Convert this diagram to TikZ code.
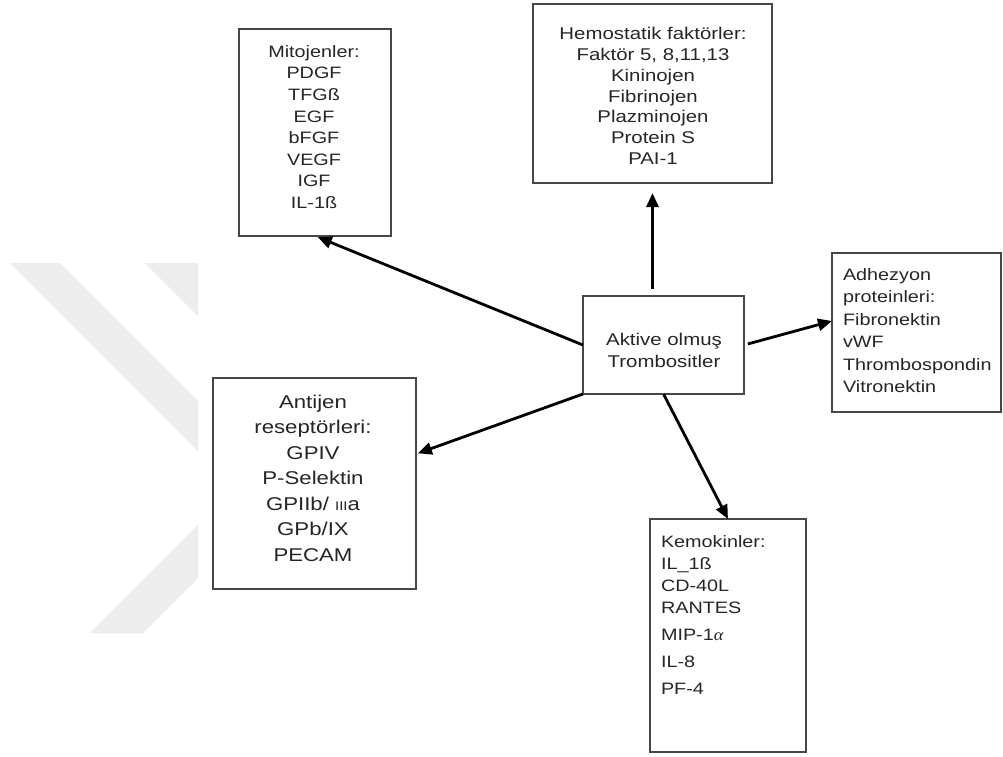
\documentclass[tikz,border=0pt]{standalone}
\usepackage{fontspec}
\setmainfont{Liberation Sans}[FakeStretch=1.2]
\newfontfamily\greekf{Liberation Serif}[FakeStretch=1.1]
\usetikzlibrary{arrows.meta}
\begin{document}
\begin{tikzpicture}[x=1pt,y=-1pt,
  box/.style={draw=black!72,line width=1.4pt,rectangle,inner sep=0pt,outer sep=0pt,fill=white},
  txt/.style={inner sep=0pt,outer sep=0pt,text=black!85},
  arr/.style={line width=2.8pt,-{Triangle[length=14pt,width=12pt]}},
  wm/.style={fill=black!7,draw=none}]
\useasboundingbox (0,0) rectangle (1003,756);
\fill[white] (0,0) rectangle (1003,756);
% watermark
\path[wm] (10,263) -- (60,263) -- (198,401) -- (198,451) -- cycle;
\path[wm] (145,263) -- (198,263) -- (198,316) -- cycle;
\path[wm] (90,633) -- (143,633) -- (198,578) -- (198,525) -- cycle;
% boxes
\node[box,minimum width=152pt,minimum height=207pt] (mito) at (315,132.5) {};
\node[box,minimum width=239pt,minimum height=179pt] (hemo) at (652.5,93.5) {};
\node[box,minimum width=169pt,minimum height=159pt] (adh) at (916.5,332.5) {};
\node[box,minimum width=161pt,minimum height=98pt] (cen) at (663.5,345) {};
\node[box,minimum width=203pt,minimum height=211pt] (ant) at (314.5,483.5) {};
\node[box,minimum width=156pt,minimum height=233pt] (kem) at (728,635.5) {};
% texts
\node[txt,align=center,font=\fontsize{16.5}{21.57}\selectfont] (mitot) at (314,127)
  {Mitojenler:\\PDGF\\TFGß\\EGF\\bFGF\\VEGF\\IGF\\IL-1ß};
\node[txt,align=center,font=\fontsize{17}{20.8}\selectfont] (hemot) at (653,96)
  {Hemostatik faktörler:\\Faktör 5, 8,11,13\\Kininojen\\Fibrinojen\\Plazminojen\\Protein S\\PAI-1};
\node[txt,align=left,anchor=west,font=\fontsize{16.5}{22.4}\selectfont] (adht) at (843,330.5)
  {Adhezyon\\proteinleri:\\Fibronektin\\vWF\\Thrombospondin\\Vitronektin};
\node[txt,align=center,font=\fontsize{17}{22}\selectfont] (cent) at (664,350)
  {Aktive olmuş\\Trombositler};
\node[txt,align=center,font=\fontsize{18.5}{25.5}\selectfont] (antt) at (313,478)
  {Antijen\\reseptörleri:\\GPIV\\P-Selektin\\GPIIb/ {\fontsize{12.5}{12.5}\selectfont III}a\\GPb/IX\\PECAM};
\node[txt,align=left,anchor=west,font=\fontsize{16.5}{22.3}\selectfont] (kemt) at (661,615)
  {Kemokinler:\\IL\_1ß\\CD-40L\\RANTES\\[4.7pt]MIP-1{\greekf\itshape α}\\[4.7pt]IL-8\\[4.7pt]PF-4};
% arrows
\draw[arr,shorten >=3pt] (cen.west) -- (mito.south);
\draw[arr,shorten <=7pt,shorten >=10pt] (hemo.south |- cen.north) -- (hemo.south);
\draw[arr,shorten <=4pt] (cen.east) -- ([yshift=11.5pt]adh.west);
\draw[arr] (cen.south) -- (kem.north);
\draw[arr,shorten >=2pt] (cen.south west) -- ([yshift=29.5pt]ant.east);
\end{tikzpicture}
\end{document}
